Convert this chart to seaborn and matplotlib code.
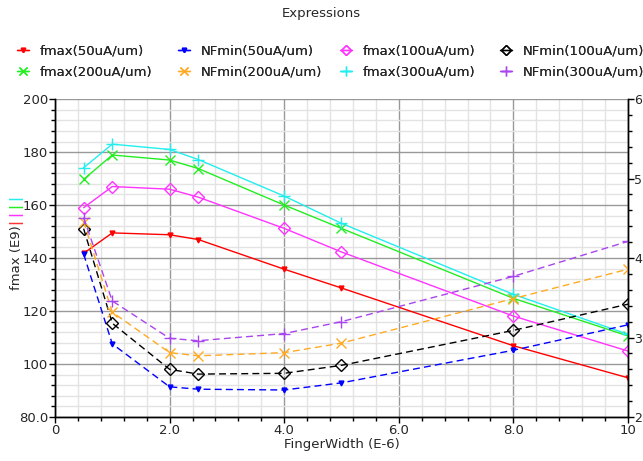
"""
Recreate the 'Expressions' fmax / NFmin vs FingerWidth chart.
"""

import matplotlib
matplotlib.use("Agg")
import matplotlib.pyplot as plt
from matplotlib.lines import Line2D
import seaborn as sns
from matplotlib.ticker import MultipleLocator

sns.set_style("white")
plt.rcParams["font.family"] = ["DejaVu Sans"]

# ---------------------------------------------------------------------------
# Data
# ---------------------------------------------------------------------------
finger_width = [0.5, 1, 2, 2.5, 4, 5, 8, 10]

fmax_50 = [141.8, 149.5, 148.8, 147.0, 135.8, 128.7, 106.9, 94.8]
fmax_100 = [159.0, 167.0, 166.0, 163.0, 151.2, 142.3, 118.1, 104.9]
fmax_200 = [169.7, 178.9, 177.0, 173.8, 160.0, 151.2, 124.8, 110.6]
fmax_300 = [174.1, 183.0, 181.0, 177.2, 163.4, 153.1, 126.3, 111.2]

nfmin_50 = [4.05, 2.92, 2.38, 2.35, 2.34, 2.43, 2.84, 3.16]
nfmin_100 = [4.37, 3.18, 2.60, 2.54, 2.55, 2.65, 3.09, 3.42]
nfmin_200 = [4.46, 3.32, 2.81, 2.77, 2.81, 2.93, 3.49, 3.86]
nfmin_300 = [4.51, 3.46, 2.99, 2.96, 3.05, 3.20, 3.77, 4.21]

fmax_series = {
    "fmax(50uA/um)": (fmax_50, "#ff0000", "v"),
    "fmax(100uA/um)": (fmax_100, "#ff33ff", "D"),
    "fmax(200uA/um)": (fmax_200, "#22ee22", "x"),
    "fmax(300uA/um)": (fmax_300, "#22eeee", "+"),
}
nfmin_series = {
    "NFmin(50uA/um)": (nfmin_50, "#0000ff", "v"),
    "NFmin(100uA/um)": (nfmin_100, "#000000", "D"),
    "NFmin(200uA/um)": (nfmin_200, "#ffaa22", "x"),
    "NFmin(300uA/um)": (nfmin_300, "#aa44ee", "+"),
}

MARKER_SIZE = {"v": 3.5, "D": 6, "x": 7, "+": 8}

# legend layout: one column per pair, as in the reference (row-major)
legend_columns = [
    ["fmax(50uA/um)", "fmax(200uA/um)"],
    ["NFmin(50uA/um)", "NFmin(200uA/um)"],
    ["fmax(100uA/um)", "fmax(300uA/um)"],
    ["NFmin(100uA/um)", "NFmin(300uA/um)"],
]
legend_x_px = [17, 178, 340, 500]

# ---------------------------------------------------------------------------
# Plot
# ---------------------------------------------------------------------------
fig = plt.figure(figsize=(6.43, 4.61), dpi=100)
ax = fig.add_axes([0.0855, 0.0954, 0.8912, 0.6896])
ax2 = ax.twinx()

handles = {}
for name, (vals, color, mk) in fmax_series.items():
    sns.lineplot(x=finger_width, y=vals, ax=ax, color=color, marker=mk,
                 markersize=MARKER_SIZE[mk], linewidth=1,
                 markerfacecolor=color if mk == "v" else "none",
                 markeredgecolor=color, markeredgewidth=1, legend=False)
    handles[name] = ax.lines[-1]

for name, (vals, color, mk) in nfmin_series.items():
    sns.lineplot(x=finger_width, y=vals, ax=ax2, color=color, marker=mk,
                 markersize=MARKER_SIZE[mk], linewidth=1, dashes=(5, 3),
                 markerfacecolor=color if mk == "v" else "none",
                 markeredgecolor=color, markeredgewidth=1, legend=False)
    handles[name] = ax2.lines[-1]

# axes ranges and ticks
ax.set_xlim(0, 10)
ax.set_ylim(80, 200)
ax2.set_ylim(2, 6)

ax.xaxis.set_major_locator(MultipleLocator(2))
ax.xaxis.set_minor_locator(MultipleLocator(0.4))
ax.yaxis.set_major_locator(MultipleLocator(20))
ax.yaxis.set_minor_locator(MultipleLocator(4))
ax2.yaxis.set_major_locator(MultipleLocator(1))
ax2.yaxis.set_minor_locator(MultipleLocator(0.2))

ax.set_xticks([0, 2, 4, 6, 8, 10], ["0", "2.0", "4.0", "6.0", "8.0", "10"])
ax.set_yticks([80, 100, 120, 140, 160, 180, 200],
              ["80.0", "100", "120", "140", "160", "180", "200"])
ax2.set_yticks([2, 3, 4, 5, 6], ["2", "3", "4", "5", "6"])

ax.grid(which="major", color="#999999", linewidth=1)
ax.grid(which="minor", color="#e3e3e3", linewidth=1)
ax.set_axisbelow(True)

for a in (ax, ax2):
    a.tick_params(which="major", direction="out", length=4, width=1,
                  labelsize=9.5, color="black", pad=1)
    a.tick_params(which="minor", direction="out", length=3, width=1,
                  color="black")
    for sp in a.spines.values():
        sp.set_color("black")
        sp.set_linewidth(1)
ax.tick_params(axis="x", which="both", bottom=True)
ax.tick_params(axis="y", which="both", left=True)
ax2.tick_params(axis="y", which="both", right=True, labelsize=9, pad=0.5)
ax2.spines["top"].set_visible(False)
ax.spines["top"].set_visible(False)

ax.set_xlabel("FingerWidth (E-6)", fontsize=9.5, labelpad=1)
ax.set_ylabel("fmax (E9)", fontsize=9.5)
ax.yaxis.set_label_coords((23 - 55) / 573, 0.5)
ax2.set_ylabel("")

# colour swatches next to the y label (red at bottom, cyan on top)
for ypix, col in zip([221, 213, 205, 198],
                     ["#ff3333", "#ff33ff", "#22ee22", "#22eeee"]):
    fig.text(15 / 643, 1 - ypix / 461, "|", color=col, rotation=90,
             fontsize=10, ha="center", va="center", fontweight="bold")

fig.text(0.5, 1 - 14 / 461, "Expressions", ha="center", va="center",
         fontsize=9.5)

# legend: four small legends so the columns sit where the reference has them
for names, xpx in zip(legend_columns, legend_x_px):
    leg_handles = []
    for n in names:
        h = handles[n]
        leg_handles.append(Line2D([], [], color=h.get_color(),
                                  marker=h.get_marker(),
                                  markersize=h.get_markersize() * 0.9,
                                  markerfacecolor=h.get_markerfacecolor(),
                                  markeredgecolor=h.get_markeredgecolor(),
                                  linewidth=1))
    leg = fig.legend(leg_handles, names, loc="upper left",
                     bbox_to_anchor=(xpx / 643, 1 - 45 / 461), frameon=False,
                     fontsize=9.5, handlelength=0.9, handletextpad=0.8,
                     labelspacing=0.55, borderaxespad=0, borderpad=0)
    fig.add_artist(leg)

fig.savefig("out.png", dpi=100)
plt.close(fig)
